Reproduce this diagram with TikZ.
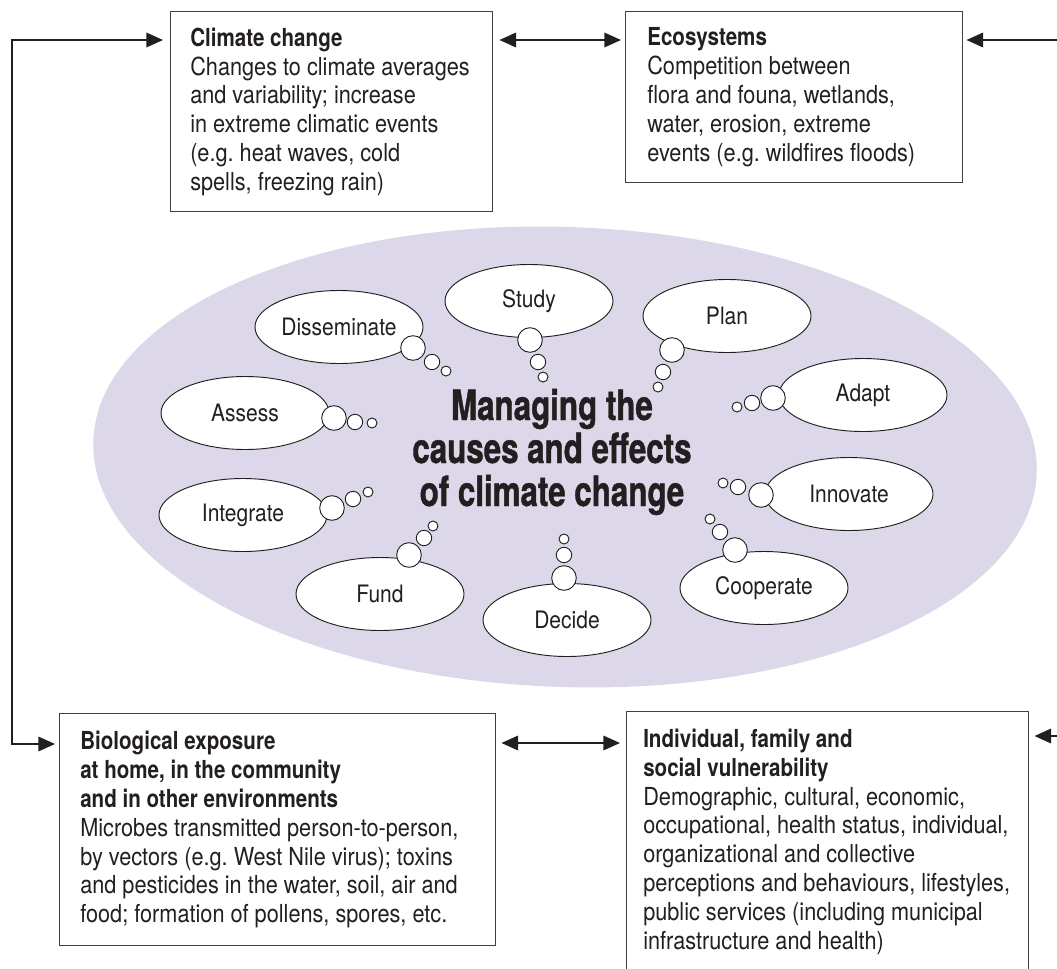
\documentclass[tikz,border=0pt]{standalone}
\usepackage{fontspec}
\setmainfont{texgyreheros}[Extension=.otf, UprightFont=*-regular, BoldFont=*-bold, UprightFeatures={FakeStretch=0.875}, BoldFeatures={FakeStretch=0.83}]
\newfontfamily\titlefont{texgyreheros-bold.otf}[FakeStretch=0.75, FakeBold=1]
\usetikzlibrary{shapes.geometric, arrows.meta, calc}
\definecolor{lav}{RGB}{220,216,234}
\definecolor{ink}{RGB}{35,31,32}
\frenchspacing
\tikzset{
  box/.style={draw=black!75, line width=1.1pt, anchor=north west, inner sep=0pt},
  boxtext/.style={anchor=west, align=left, inner sep=0pt, text=ink, font=\fontsize{18.6}{21.6}\selectfont\frenchspacing},
  bub/.style={ellipse, draw=ink, line width=0.7pt, fill=white, minimum width=126pt, minimum height=54.75pt, inner sep=0pt, text=ink, font=\fontsize{18}{20}\selectfont},
  cbig/.style={circle, draw=ink, line width=0.7pt, fill=white, inner sep=0pt, minimum size=18.45pt},
  cmid/.style={circle, draw=ink, line width=0.7pt, fill=white, inner sep=0pt, minimum size=11.55pt},
  csml/.style={circle, draw=ink, line width=0.7pt, fill=white, inner sep=0pt, minimum size=7.5pt},
  tip/.tip={Triangle[length=12.5pt, width=11pt]},
  arr/.style={line width=1pt, draw=ink, -tip},
  dbl/.style={line width=1pt, draw=ink, tip-tip},
}
\begin{document}
\begin{tikzpicture}[x=0.75pt, y=-0.75pt]
\path[use as bounding box] (0,0) rectangle (1057,968);
\clip (0,0) rectangle (1057,968);

% central lavender field
\fill[lav, rotate around={-2:(565,457)}] (565,457) ellipse [x radius=472, y radius=230];

% boxes
\node[box, minimum width=241.5pt, minimum height=150pt] (clim) at (170,11) {};
\node[box, minimum width=252.75pt, minimum height=128.25pt] (eco) at (625,11) {};
\node[box, minimum width=327pt, minimum height=174pt] (bio) at (59,713) {};
\node[box, minimum width=301.5pt, minimum height=195pt] (ind) at (626,711) {};

\node[boxtext] (climtext) at ($(clim.west)+(20,0)$)
  {\textbf{Climate change}\\Changes to climate averages\\and variability; increase\\in extreme climatic events\\(e.g. heat waves, cold\\spells, freezing rain)};
\node[boxtext] (ecotext) at ($(eco.west)+(22,0)$)
  {\textbf{Ecosystems}\\Competition between\\flora and founa, wetlands,\\water, erosion, extreme\\events (e.g. wildfires floods)};
\node[boxtext] (biotext) at ($(bio.west)+(21,0)$)
  {\textbf{Biological exposure}\\\textbf{at home, in the community}\\\textbf{and in other environments}\\Microbes transmitted person-to-person,\\by vectors (e.g. West Nile virus); toxins\\and pesticides in the water, soil, air and\\food; formation of pollens, spores, etc.};
\node[boxtext] (indtext) at ($(ind.west)+(17,0)$)
  {\textbf{Individual, family and}\\\textbf{social vulnerability}\\Demographic, cultural, economic,\\occupational, health status, individual,\\organizational and collective\\perceptions and behaviours, lifestyles,\\public services (including municipal\\infrastructure and health)};

% connectors
\coordinate (ltop) at (12,40);
\coordinate (lbot) at (12,744);
\coordinate (mbot) at (560,743);
\coordinate (rtop) at (1062,40);
\coordinate (rbot) at (1062,736);
\draw[dbl, shorten <=5.25pt, shorten >=3pt] (clim.west |- ltop) -- (ltop) -- (lbot) -- (bio.west |- lbot);
\draw[dbl, shorten <=4.5pt, shorten >=3pt] (clim.east |- ltop) -- (eco.west |- ltop);
\draw[arr, shorten >=2.25pt] (rtop) -- (eco.east |- rtop);
\draw[dbl, shorten <=3.75pt, shorten >=4.5pt] (bio.east |- mbot) -- (ind.west |- mbot);
\draw[arr, shorten >=3.75pt] (rbot) -- (ind.east |- rbot);

% thought bubbles
\node[bub] (diss) at (339,327) {Disseminate};
\node[bub] (study) at (529,301) {Study};
\node[bub] (plan) at (727,316) {Plan};
\node[bub] (adapt) at (863,395) {Adapt};
\node[bub] (innov) at (849,494) {Innovate};
\node[bub] (coop) at (764,588) {Cooperate};
\node[bub] (assess) at (245,413) {Assess};
\node[bub] (integ) at (243,515) {Integrate};
\node[bub] (fund) at (380,594) {Fund};
\node[bub] (decide) at (567,620) {Decide};

\node[cbig] (diss1) at (413,348) {}; \node[cmid] (diss2) at (432,362) {}; \node[csml] (diss3) at (446,371) {};
\node[cbig] (study1) at (530,340) {}; \node[cmid] (study2) at (538,362) {}; \node[csml] (study3) at (543,377) {};
\node[cbig] (plan1) at (672,350) {}; \node[cmid] (plan2) at (663,372) {}; \node[csml] (plan3) at (658,387) {};
\node[cbig] (adapt1) at (773,398) {}; \node[cmid] (adapt2) at (752,403) {}; \node[csml] (adapt3) at (737,407) {};
\node[cbig] (innov1) at (761,495) {}; \node[cmid] (innov2) at (738,487) {}; \node[csml] (innov3) at (723,483) {};
\node[cbig] (coop1) at (735,550) {}; \node[cmid] (coop2) at (720,532) {}; \node[csml] (coop3) at (710,519) {};
\node[cbig] (assess1) at (334,418) {}; \node[cmid] (assess2) at (355,422) {}; \node[csml] (assess3) at (372,423) {};
\node[cbig] (integ1) at (332,508) {}; \node[cmid] (integ2) at (353,499) {}; \node[csml] (integ3) at (368,492) {};
\node[cbig] (fund1) at (409,555) {}; \node[cmid] (fund2) at (424,538) {}; \node[csml] (fund3) at (433,526) {};
\node[cbig] (decide1) at (564,578) {}; \node[cmid] (decide2) at (564,555) {}; \node[csml] (decide3) at (564,539) {};

% central title
\node[align=center, text=ink, font=\titlefont\fontsize{31.3}{32.25}\selectfont] (title) at (552,452)
  {Managing the\\causes and effects\\of climate change};
\end{tikzpicture}
\end{document}
